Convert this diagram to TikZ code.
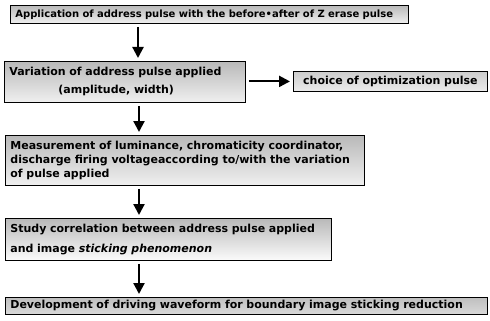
\documentclass[tikz,border=0pt]{standalone}
\usepackage{fontspec}
\setmainfont{DejaVu Sans}
\usetikzlibrary{arrows.meta}
\begin{document}
\begin{tikzpicture}[x=1pt,y=-1pt,
  box/.style={draw=black, line width=0.8pt, anchor=north west, inner xsep=5pt, inner ysep=2pt,
    top color=gray!55, bottom color=gray!12, font=\bfseries\fontsize{11}{14}\selectfont, align=left},
  flow/.style={line width=2.2pt, -{Triangle[width=11pt,length=11pt]}, shorten <=3pt, shorten >=3pt}
]
\useasboundingbox (0,0) rectangle (490,321);
\node[box, minimum width=398pt, minimum height=18pt, text width=388pt, font=\bfseries\fontsize{10}{12}\selectfont] (b1) at (10,5)
  {Application of address pulse with the before•after of Z erase pulse};
\node[box, minimum width=241pt, minimum height=41pt, text width=231pt, font=\bfseries\fontsize{11}{18}\selectfont] (b2) at (4,61)
  {Variation of address pulse applied\\\hspace*{49pt}(amplitude, width)};
\node[box, minimum width=194pt, minimum height=20pt, text width=184pt, align=center, top color=gray!40, bottom color=gray!15] (b3) at (293,71)
  {choice of optimization pulse};
\node[box, minimum width=359pt, minimum height=50pt, text width=349pt] (b4) at (5,135)
  {Measurement of luminance, chromaticity coordinator,\\discharge firing voltageaccording to/with the variation\\of pulse applied};
\node[box, minimum width=326pt, minimum height=42pt, text width=316pt, font=\bfseries\fontsize{11}{20}\selectfont, bottom color=gray!3] (b5) at (5,218)
  {Study correlation between address pulse applied\\and image \textit{sticking phenomenon}};
\node[box, minimum width=482pt, minimum height=17pt, text width=472pt, top color=gray!50, bottom color=gray!30] (b6) at (5,297)
  {Development of driving waveform for boundary image sticking reduction};
\coordinate (c1) at (138,0);
\coordinate (c2) at (139,0);
\draw[flow] (b1.south -| c1) -- (b2.north -| c1);
\draw[flow] (b2.south -| c2) -- (b4.north -| c2);
\draw[flow] (b4.south -| c2) -- (b5.north -| c2);
\draw[flow] (b5.south -| c2) -- (b6.north -| c2);
\draw[flow] (b2.east |- b3.west) -- (b3.west);
\end{tikzpicture}
\end{document}
